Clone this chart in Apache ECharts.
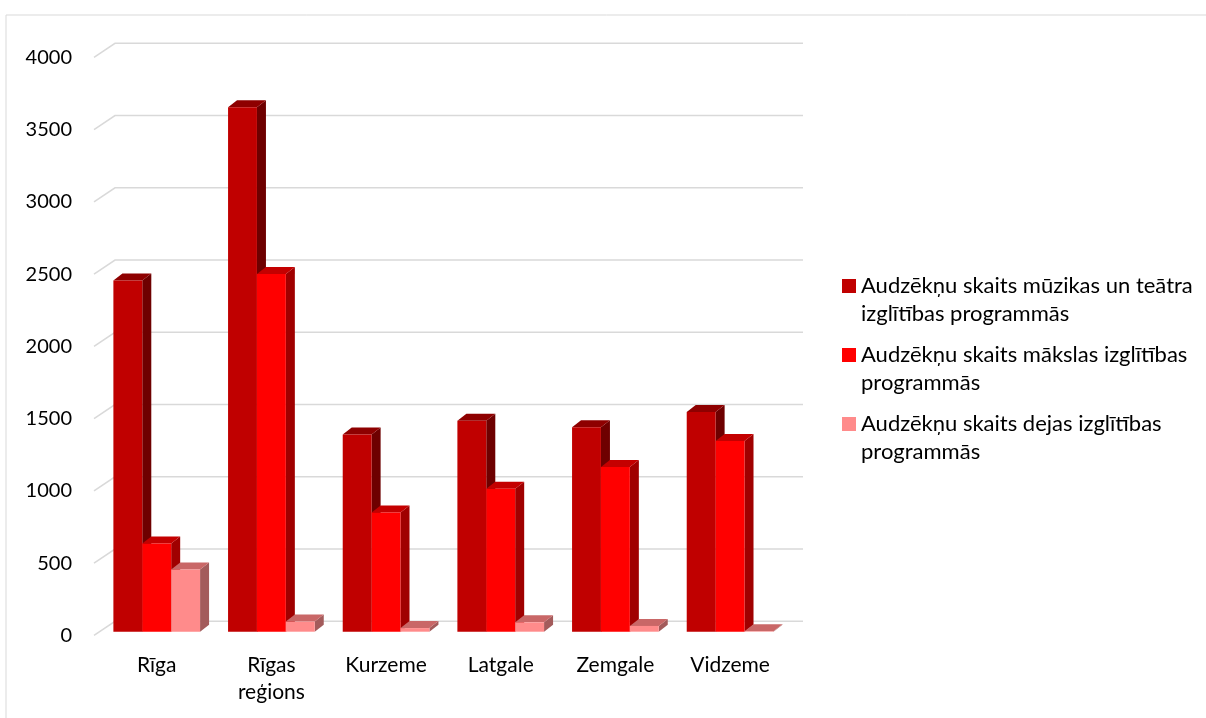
<!DOCTYPE html>
<html>
<head>
<meta charset="utf-8">
<script src="https://cdn.jsdelivr.net/npm/echarts@6/dist/echarts.min.js"></script>
<style>
html,body{margin:0;padding:0;background:#fff;}
#chart{width:1206px;height:718px;}
</style>
</head>
<body>
<div id="chart"></div>
<script>
var categories = ['Rīga', 'Rīgas\nreģions', 'Kurzeme', 'Latgale', 'Zemgale', 'Vidzeme'];
var seriesNames = [
  'Audzēkņu skaits mūzikas un teātra izglītības programmās',
  'Audzēkņu skaits mākslas izglītības programmās',
  'Audzēkņu skaits dejas izglītības programmās'
];
var legendLabels = [
  'Audzēkņu skaits mūzikas un teātra\nizglītības programmās',
  'Audzēkņu skaits mākslas izglītības\nprogrammās',
  'Audzēkņu skaits dejas izglītības\nprogrammās'
];
var musicTheatre = [2430, 3630, 1365, 1460, 1415, 1520];
var art = [610, 2475, 825, 990, 1140, 1320];
var dance = [430, 70, 25, 65, 40, 3];
var yTicks = [0, 500, 1000, 1500, 2000, 2500, 3000, 3500, 4000];

var faceColors = [
  { front: '#C00000', top: '#8E0000', side: '#6E0000' },
  { front: '#FF0000', top: '#C40000', side: '#A00000' },
  { front: '#FF8B8B', top: '#C96767', side: '#A35B5B' }
];
var DX = 9, DY = -7;

function makeBarRender(si) {
  return function (params, api) {
    var cat = api.value(0), v = api.value(1);
    var base = api.coord([cat, 0]);
    var topP = api.coord([cat, v]);
    var band = api.size([1, 0])[0];
    var bw = band * 0.252;
    var x0 = base[0] - 1.5 * bw + si * bw;
    var x1 = x0 + bw;
    var yb = base[1], yt = topP[1];
    var c = faceColors[si];
    return {
      type: 'group',
      children: [
        { type: 'polygon', shape: { points: [[x1, yb], [x1 + DX, yb + DY], [x1 + DX, yt + DY], [x1, yt]] }, style: { fill: c.side } },
        { type: 'polygon', shape: { points: [[x0, yt], [x0 + DX, yt + DY], [x1 + DX, yt + DY], [x1, yt]] }, style: { fill: c.top } },
        { type: 'rect', shape: { x: x0, y: yt, width: bw, height: yb - yt }, style: { fill: c.front } }
      ]
    };
  };
}

function toData(arr) { return arr.map(function (v, i) { return [i, v]; }); }

var chart = echarts.init(document.getElementById('chart'), null, { renderer: 'canvas' });
var font = 'Lato, "Open Sans", sans-serif';
var allSeries = [
  {
    type: 'custom', name: 'grid3d', xAxisIndex: 0, yAxisIndex: 0, silent: true, z: 1,
    data: yTicks.map(function (t) { return [0, t]; }),
    renderItem: function (params, api) {
      var p0 = api.coord([0, api.value(1)]);
      var p1 = api.coord([1, api.value(1)]);
      return {
        type: 'polyline',
        shape: { points: [[p0[0], p0[1]], [p0[0] + 21, p0[1] - 14], [p1[0] + 21, p1[1] - 14]] },
        style: { stroke: '#d9d9d9', lineWidth: 1.5, fill: null }
      };
    }
  }
];
[musicTheatre, art, dance].forEach(function (arr, si) {
  allSeries.push({
    type: 'custom', name: seriesNames[si], xAxisIndex: 1, yAxisIndex: 1, z: 2,
    itemStyle: { color: faceColors[si].front },
    encode: { x: 0, y: 1 },
    data: toData(arr),
    renderItem: makeBarRender(si)
  });
});

chart.setOption({
  animation: false,
  backgroundColor: '#fff',
  textStyle: { fontFamily: font },
  graphic: [{
    type: 'rect', left: 3.5, top: 12.5, silent: true,
    shape: { x: 0, y: 0, width: 1220, height: 720 },
    style: { fill: null, stroke: '#d9d9d9', lineWidth: 1 }
  }],
  grid: [
    { left: 94, top: 57.3, width: 688, height: 578 },
    { left: 99.4, top: 53.7, width: 688, height: 578 }
  ],
  xAxis: [
    { type: 'value', gridIndex: 0, min: 0, max: 1, show: false },
    {
      type: 'category', gridIndex: 1, data: categories,
      axisLine: { show: false }, axisTick: { show: false },
      axisLabel: { margin: 20, fontSize: 21, lineHeight: 27, color: '#000', fontFamily: font, interval: 0 }
    }
  ],
  yAxis: [
    {
      type: 'value', gridIndex: 0, min: 0, max: 4000, interval: 500,
      axisLine: { show: false }, axisTick: { show: false }, splitLine: { show: false },
      axisLabel: { margin: 22, fontSize: 20, color: '#000', fontFamily: font, formatter: function (v) { return String(v); } }
    },
    { type: 'value', gridIndex: 1, min: 0, max: 4000, interval: 500, show: false, splitLine: { show: false } }
  ],
  legend: {
    data: seriesNames,
    orient: 'vertical',
    left: 842, top: 272, padding: 0,
    itemWidth: 14, itemHeight: 42, itemGap: 13,
    icon: 'path://M0,0h14v14h-14zM0,41.95h0.05v0.05h-0.05z',
    formatter: function (name) { return legendLabels[seriesNames.indexOf(name)]; },
    textStyle: { fontSize: 22, lineHeight: 28, color: '#000', fontFamily: font },
    selectedMode: false
  },
  series: allSeries
});
</script>
</body>
</html>
